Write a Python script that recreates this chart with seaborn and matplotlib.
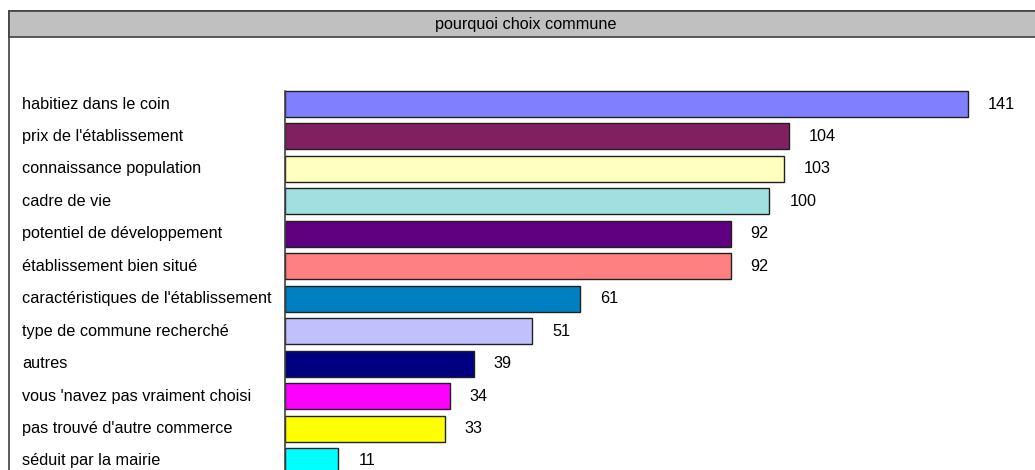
import matplotlib
matplotlib.use("Agg")
import matplotlib.pyplot as plt
from matplotlib.patches import Rectangle
from matplotlib.transforms import blended_transform_factory
import seaborn as sns
import pandas as pd

categories = [
    "habitiez dans le coin",
    "prix de l'établissement",
    "connaissance population",
    "cadre de vie",
    "potentiel de développement",
    "établissement bien situé",
    "caractéristiques de l'établissement",
    "type de commune recherché",
    "autres",
    "vous 'navez pas vraiment choisi",
    "pas trouvé d'autre commerce",
    "séduit par la mairie",
]
counts = [141, 104, 103, 100, 92, 92, 61, 51, 39, 34, 33, 11]
colors = ["#8080FF", "#802060", "#FFFFC0", "#A0E0E0", "#600080", "#FF8080",
          "#0080C0", "#C0C0FF", "#000080", "#FF00FF", "#FFFF00", "#00FFFF"]
title = "pourquoi choix commune"

sns.set_theme(style="white")
plt.rcParams["font.family"] = ["Liberation Sans", "DejaVu Sans"]

W, H = 1035, 470
fig = plt.figure(figsize=(W / 100, H / 100), dpi=100)
fig.patch.set_facecolor("white")

def fx(px):
    return px / W

def fy(py):
    return 1 - py / H

fs = 11.7

# outer frame and grey title band
edge = "#404040"
fig.patches.append(Rectangle((fx(9), fy(480)), fx(1040) - fx(9), fy(11) - fy(480),
                             transform=fig.transFigure, facecolor="white",
                             edgecolor=edge, linewidth=1.2, zorder=-2))
fig.patches.append(Rectangle((fx(9), fy(37)), fx(1040) - fx(9), fy(11) - fy(37),
                             transform=fig.transFigure, facecolor="#C0C0C0",
                             edgecolor=edge, linewidth=1.2, zorder=-1))
fig.text(fx(526), fy(24), title, ha="center", va="center", fontsize=fs, color="#000000")

ax_left, ax_right, ax_top, ax_bottom = 285, 1035, 38, 470
ax = fig.add_axes([fx(ax_left), fy(ax_bottom), fx(ax_right) - fx(ax_left), fy(ax_top) - fy(ax_bottom)])
ax.set_zorder(2)
ax.patch.set_alpha(0)

df = pd.DataFrame({"cat": categories, "n": counts})
sns.barplot(data=df, y="cat", x="n", hue="cat", palette=colors, order=categories,
            hue_order=categories, legend=False, orient="h", width=0.8,
            edgecolor="#202020", linewidth=1.0, saturation=1, ax=ax)

px_per_unit = (968 - 285) / 141
ax.set_xlim(0, (ax_right - ax_left) / px_per_unit)
row = 32.45
y_bottom = 11 + (ax_bottom - 461) / row
ax.set_ylim(y_bottom, -(104 - ax_top) / row)

for i, v in enumerate(counts):
    ax.text(v + 20 / px_per_unit, i, str(v), va="center", ha="left", fontsize=fs, color="#000000")

trans = blended_transform_factory(fig.transFigure, ax.transData)
for i, c in enumerate(categories):
    ax.text(fx(22), i, c, transform=trans, va="center", ha="left", fontsize=fs,
            color="#000000", clip_on=False)

ax.set_xlabel("")
ax.set_ylabel("")
ax.set_xticks([])
ax.set_yticks([])
for s in ["top", "right", "bottom"]:
    ax.spines[s].set_visible(False)
ax.spines["left"].set_color(edge)
ax.spines["left"].set_linewidth(1.2)
ax.spines["left"].set_bounds(y_bottom, -0.4)

fig.savefig("out.png", dpi=100)
